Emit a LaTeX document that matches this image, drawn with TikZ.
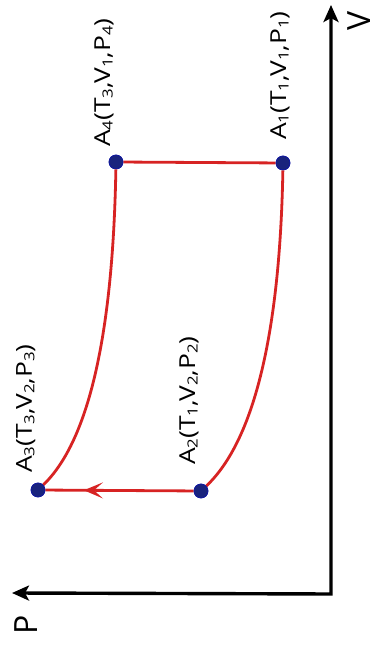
\documentclass[tikz,border=0pt]{standalone}
\usepackage{fontspec}
\setmainfont{Open Sans}
\usetikzlibrary{arrows.meta,decorations.markings}
\definecolor{cyc}{RGB}{215,35,35}
\definecolor{dotc}{RGB}{25,35,125}
\newcommand\lowidx[1]{\raisebox{-2.5pt}{\fontsize{14}{14}\selectfont #1}}
\newcommand\stlbl[4]{\scalebox{1.2}[1]{A\lowidx{#1}(T\lowidx{#2},V\lowidx{#3},P\lowidx{#4})}}
\begin{document}
\begin{tikzpicture}[x=1pt,y=1pt,
  dot/.style={circle,fill=dotc,draw=dotc!70!blue,line width=0.6pt,inner sep=0pt,minimum size=14pt},
  cycline/.style={draw=cyc,line width=2.8pt},
  axisline/.style={line width=3.4pt,line join=miter,{Stealth[length=17pt,width=15pt,inset=4pt]}-{Stealth[length=17pt,width=15pt,inset=4pt]}},
  lbl/.style={rotate=90,anchor=base west,inner sep=0pt,font=\fontsize{22}{22}\selectfont},
  axlbl/.style={rotate=90,inner sep=0pt,font=\fontsize{32}{32}\selectfont}]
\useasboundingbox (0,0) rectangle (378,653);
% axes
\coordinate (O) at (331,59);
\coordinate (Ptip) at (12,60);
\coordinate (Vtip) at (331,648);
\draw[axisline] (Ptip) -- (O) -- (Vtip);
\node[axlbl] (Vl) at (359,632) {V};
\node[axlbl] (Pl) at (26,28) {P};
% states
\node[dot] (A1) at (283,490) {};
\node[dot] (A2) at (201,162) {};
\node[dot] (A3) at (38,163) {};
\node[dot] (A4) at (116,491) {};
% cycle
\draw[cycline] (A4) -- (A1);
\draw[cycline] (A1) .. controls (280,323) and (255,213) .. (A2);
\draw[cycline,postaction={decorate},decoration={markings,mark=at position 0.74 with {\arrow[cyc]{Stealth[length=19pt,width=16pt,inset=9pt]}}}] (A2) -- (A3);
\draw[cycline] (A4) .. controls (113,323) and (90,213) .. (A3);
% redraw dots on top
\node[dot] at (A1) {};
\node[dot] at (A2) {};
\node[dot] at (A3) {};
\node[dot] at (A4) {};
% labels
\node[lbl] (L4) at (110,506) {\stlbl{4}{3}{1}{4}};
\node[lbl] (L1) at (286,513) {\stlbl{1}{1}{1}{1}};
\node[lbl] (L2) at (195,188) {\stlbl{2}{1}{2}{2}};
\node[lbl] (L3) at (32,180) {\stlbl{3}{3}{2}{3}};
\end{tikzpicture}
\end{document}
